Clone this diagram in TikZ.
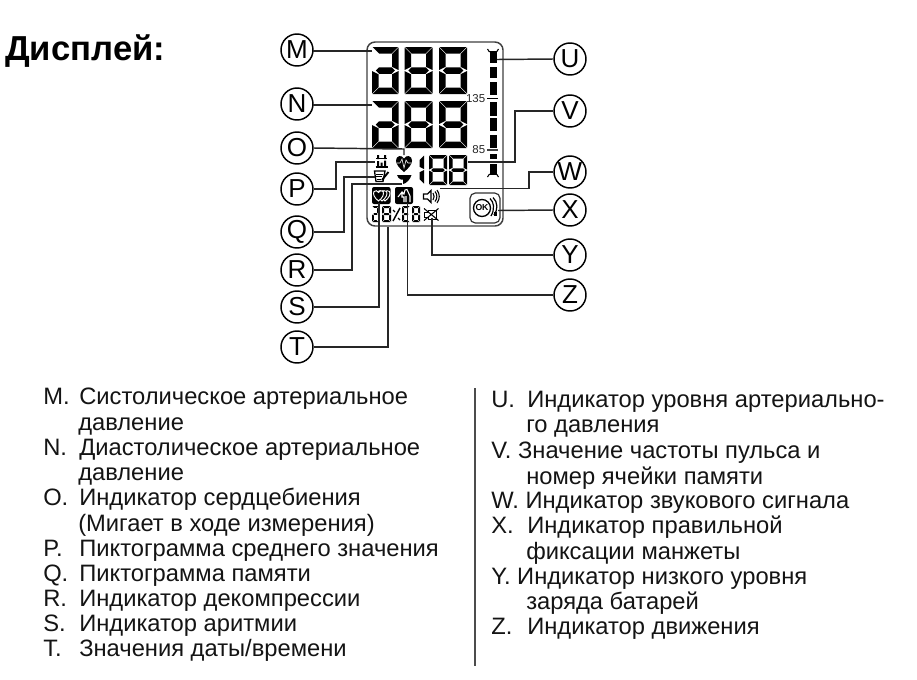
\documentclass[tikz,border=0pt]{standalone}
\usepackage{fontspec}
\setmainfont{Liberation Sans}
\newcommand\SegA{\fill (\g,0) -- ({\w-\g},0) -- ({\w-\t-\g},\t) -- ({\t+\g},\t) -- cycle;}
\newcommand\SegD{\fill (\g,\h) -- ({\w-\g},\h) -- ({\w-\t-\g},{\h-\t}) -- ({\t+\g},{\h-\t}) -- cycle;}
\newcommand\SegF{\fill (0,\g) -- (\t,{\t+\g}) -- (\t,{\h/2-\t/2-\g}) -- (0,{\h/2-\g}) -- cycle;}
\newcommand\SegB{\fill (\w,\g) -- ({\w-\t},{\t+\g}) -- ({\w-\t},{\h/2-\t/2-\g}) -- (\w,{\h/2-\g}) -- cycle;}
\newcommand\SegE{\fill (0,{\h/2+\g}) -- (\t,{\h/2+\t/2+\g}) -- (\t,{\h-\t-\g}) -- (0,{\h-\g}) -- cycle;}
\newcommand\SegC{\fill (\w,{\h/2+\g}) -- ({\w-\t},{\h/2+\t/2+\g}) -- ({\w-\t},{\h-\t-\g}) -- (\w,{\h-\g}) -- cycle;}
\newcommand\SegG{\fill ({\g+\t/2},\h/2) -- ({\t+\g},{\h/2-\t/2}) -- ({\w-\t-\g},{\h/2-\t/2}) -- ({\w-\g-\t/2},\h/2) -- ({\w-\t-\g},{\h/2+\t/2}) -- ({\t+\g},{\h/2+\t/2}) -- cycle;}
\newcommand\DigitAt[6]{\begin{scope}[shift={(#1,#2)}]\def\w{#3}\def\h{#4}\def\t{#5}\def\g{0.5}#6\end{scope}}
\newcommand\AllSegs{\SegA\SegB\SegC\SegD\SegE\SegF\SegG}
\newcommand\DSegs{\SegA\SegB\SegC\SegD\SegE\SegG}
\newcommand\HeartAt[1]{\filldraw[fill=black,draw=white,line width=0.7pt] (#1,201) .. controls (#1-4,198) and (#1-6,194) .. (#1-4.5,191.5) .. controls (#1-3,190) and (#1-1,190.5) .. (#1,192.5) .. controls (#1+1,190.5) and (#1+3,190) .. (#1+4.5,191.5) .. controls (#1+6,194) and (#1+4,198) .. (#1,201) -- cycle;}
\tikzset{
  lbl/.style={circle,draw=black,fill=white,line width=1.1pt,minimum size=24pt,inner sep=0pt,font=\fontsize{19.5}{19.5}\selectfont},
  lead/.style={draw=black!85,line width=1.1pt},
  item/.style={anchor=base west,inner sep=0pt,font=\fontsize{17.8}{17.8}\selectfont,text=black!92},
  scale label/.style={inner sep=0pt,font=\fontsize{8.6}{8.6}\selectfont,text=black!85},
}
\begin{document}
\begin{tikzpicture}[x=0.75pt,y=-0.75pt]
\useasboundingbox (0,0) rectangle (917,679);
\fill[white] (0,0) rectangle (917,679);
\node[anchor=base west,inner sep=0pt,font=\bfseries\fontsize{26}{26}\selectfont] (title) at (5,60) {Дисплей:};

% LCD bezel
\draw[black!75,line width=1.1pt,rounded corners=6pt] (367,42) rectangle (503,226);

% Big digits
\DigitAt{372}{47}{26.5}{47}{6.5}{\DSegs}
\DigitAt{404.5}{47}{28}{47}{6.5}{\AllSegs}
\DigitAt{439}{47}{28}{47}{6.5}{\AllSegs}
\DigitAt{372}{101}{26.5}{47}{6.5}{\DSegs}
\DigitAt{404.5}{101}{28}{47}{6.5}{\AllSegs}
\DigitAt{439}{101}{28}{47}{6.5}{\AllSegs}
% Pulse digits
\DigitAt{418}{155}{6}{29}{4.5}{\SegB\SegC}
\DigitAt{429}{155}{18}{30}{3.5}{\AllSegs}
\DigitAt{449}{155}{18}{30}{3.5}{\AllSegs}
% Date digits
\DigitAt{372}{206}{7}{16}{1.8}{\SegA\SegB\SegD\SegE\SegG}
\DigitAt{382}{206}{9}{16}{2}{\AllSegs}
\draw[black,line width=1.1pt] (393,221) -- (400,208);
\draw[black,line width=0.9pt] (393,210) -- (395,212) (398,218) -- (400,220);
\DigitAt{402}{206}{8}{16}{2}{\SegA\SegD\SegE\SegF\SegG}
\DigitAt{412}{206}{8}{16}{2}{\AllSegs}

% Level bar
\foreach \a/\b in {51/63,67/78,82/95,102/116,118/131,135/148,154/159,164/175}
  \fill[black] (489.5,\a) rectangle (496.5,\b);
\draw[black,line width=0.8pt] (487.5,49) arc[start angle=180,end angle=0,x radius=5.5,y radius=3.5];
\draw[black,line width=0.8pt] (487.5,177) arc[start angle=180,end angle=360,x radius=5.5,y radius=3.5];
\draw[black,line width=1.1pt] (487,98.5) -- (498,98.5);
\draw[black!75,line width=0.8pt] (487,150) -- (498,150);
\node[scale label,anchor=east] (s135) at (485.5,98.5) {135};
\node[scale label,anchor=east] (s85) at (485.5,150) {85};

% Heart
\fill[black] (404,172) .. controls (399,168) and (396,164) .. (396,160.5) .. controls (396,155.5) and (402,154.5) .. (404,158.5) .. controls (406,154.5) and (412,155.5) .. (412,160.5) .. controls (412,164) and (409,168) .. (404,172) -- cycle;
\draw[white,line width=0.45pt] (397,163) -- (400,163) -- (402,159) -- (404,168) -- (406,160) -- (408,163) -- (411,163);
% Average icon
\draw[black,line width=1pt] (375.5,167) -- (387.5,167);
\draw[black,line width=0.9pt] (376,158.5) -- (387,158.5);
\fill[black] (377,161) rectangle (379,166) (380.5,162.5) rectangle (382.5,166) (384,160.5) rectangle (386,166);
\fill[black] (377,155) rectangle (379,159) (384,155) rectangle (386,159);
% Memory icon
\draw[black,line width=1pt] (374.5,171) -- (385,171) -- (383,181.5) -- (376,181.5) -- cycle;
\draw[black,line width=0.7pt] (376,174) -- (383,174) (376,176.5) -- (382,176.5) (376.5,179) -- (381,179);
\draw[black,line width=1.4pt] (382,180) -- (388.5,172);
% Deflation icon
\fill[black] (397,175) -- (411.5,175) .. controls (410,180) and (406,183.5) .. (403,184) -- (403,179.5) -- (401,179.5) .. controls (399,179.5) and (398,177) .. (397,175) -- cycle;
% Arrhythmia icon
\fill[black,rounded corners=1.5pt] (372,187) rectangle (390.5,204);
\HeartAt{385}\HeartAt{382}\HeartAt{378.5}
% Motion icon
\fill[black,rounded corners=1.5pt] (395,187) rectangle (413,204);
\draw[white,line width=0.8pt] (398,197) -- (402,192) -- (404,194) -- (405,190) -- (407,189.5) -- (410,196) -- (410,202) (402,192) -- (402,197) -- (404,197) -- (404,202) (406,196) -- (406,202);
% Speaker icon
\draw[black,line width=0.9pt] (423.5,194) -- (427.5,194) -- (431,190.5) -- (431,202.5) -- (427.5,199) -- (423.5,199) -- cycle;
\draw[black,line width=0.8pt] (433,193) .. controls (434.5,195) and (434.5,198) .. (433,200);
\draw[black,line width=0.8pt] (435,191.5) .. controls (437.5,194.5) and (437.5,198.5) .. (435,201.5);
\draw[black,line width=0.8pt] (437,190) .. controls (440,194) and (440,199) .. (437,203);
% Low battery icon
\draw[black,line width=0.6pt] (424,212) -- (428,212) -- (428,210) -- (436,210) -- (436,219) -- (428,219) -- (428,217) -- (424,217) -- cycle;
\draw[black,line width=0.8pt] (424,208.5) -- (438.5,220.5) (424,220.5) -- (438.5,208.5);
% OK icon
\draw[black!80,line width=0.9pt,rounded corners=4pt] (470,193) rectangle (500,223);
\draw[black,line width=1pt] (482,208) circle[radius=8.5];
\node[inner sep=0pt,font=\bfseries\fontsize{6.5}{6.5}\selectfont] (ok) at (482,208) {OK};
\draw[black,line width=0.9pt] (490,198.5) .. controls (494,202) and (495,209) .. (491,216);
\draw[black,line width=0.9pt] (493,197.5) .. controls (498,202) and (498,210) .. (494,215);
\fill[black] (494,212) rectangle (497,216);

% Callouts
\node[lbl] (M) at (297,50) {M};
\node[lbl] (N) at (297,104) {N};
\node[lbl] (O) at (297,148) {O};
\node[lbl] (P) at (297,189) {P};
\node[lbl] (Q) at (297,232) {Q};
\node[lbl] (R) at (297,270) {R};
\node[lbl] (S) at (297,307) {S};
\node[lbl] (T) at (297,347) {T};
\node[lbl] (U) at (570,59) {U};
\node[lbl] (V) at (570,111) {V};
\node[lbl] (W) at (570,172) {W};
\node[lbl] (X) at (570,210) {X};
\node[lbl] (Y) at (570,255) {Y};
\node[lbl] (Z) at (570,295) {Z};

\coordinate (eM) at (372,51);
\coordinate (eN) at (372,105);
\coordinate (eO) at (404,155);
\coordinate (eP) at (375,162);
\coordinate (eQ) at (375,177);
\coordinate (eR) at (402,184);
\coordinate (eS) at (379,203);
\coordinate (eT) at (388,227);
\coordinate (eU) at (497,59.5);
\coordinate (eV) at (468,162);
\coordinate (eW) at (440,188.5);
\coordinate (eX) at (498,210.5);
\coordinate (eY) at (432,218);
\coordinate (eZ) at (407.5,203);

\draw[lead] (M.east) -- (M.east |- eM) -- (eM);
\draw[lead] (N.east) -- (N.east |- eN) -- (eN);
\draw[lead] (O.east) -- (404,149) -- (eO);
\draw[lead] (P.east) -- (336,189) -- (336,162) -- (eP);
\draw[lead] (Q.east) -- (344,232) -- (344,177) -- (eQ);
\draw[lead] (R.east) -- (352,270) -- (352,184) -- (eR);
\draw[lead] (S.east) -- (379,307) -- (eS);
\draw[lead] (T.east) -- (388,347) -- (eT);
\draw[lead] (U.west) -- (eU);
\draw[lead] (V.west) -- (515,111) -- (515,162) -- (eV);
\draw[lead] (W.west) -- (529,172) -- (529,188.5) -- (eW);
\draw[lead] (X.west) -- (eX);
\draw[lead] (Y.west) -- (432,255) -- (eY);
\draw[lead] (Z.west) -- (407.5,295) -- (eZ);

% Left list
\node[item] (tm1) at (43,404.5) {M.};
\node[item] (tm2) at (79,404.5) {Систолическое артериальное};
\node[item] (tm3) at (78,430) {давление};
\node[item] (tn1) at (43,455) {N.};
\node[item] (tn2) at (79,455) {Диастолическое артериальное};
\node[item] (tn3) at (78,480.5) {давление};
\node[item] (to1) at (43,505.5) {O.};
\node[item] (to2) at (79,505.5) {Индикатор сердцебиения};
\node[item] (to3) at (78,531) {(Мигает в ходе измерения)};
\node[item] (tp1) at (43,556) {P.};
\node[item] (tp2) at (79,556) {Пиктограмма среднего значения};
\node[item] (tq1) at (43,581.5) {Q.};
\node[item] (tq2) at (79,581.5) {Пиктограмма памяти};
\node[item] (tr1) at (43,606.5) {R.};
\node[item] (tr2) at (79,606.5) {Индикатор декомпрессии};
\node[item] (ts1) at (43,631.5) {S.};
\node[item] (ts2) at (79,631.5) {Индикатор аритмии};
\node[item] (tt1) at (43,656.5) {T.};
\node[item] (tt2) at (79,656.5) {Значения даты/времени};

% Divider
\draw[black!70,line width=0.9pt] (475,388) -- (475,666);

% Right list
\node[item] (tu1) at (491,407) {U.};
\node[item] (tu2) at (527,407) {Индикатор уровня артериально-};
\node[item] (tu3) at (526,432.5) {го давления};
\node[item] (tv1) at (491,458) {V. Значение частоты пульса и};
\node[item] (tv2) at (526,484) {номер ячейки памяти};
\node[item] (tw1) at (491,508.5) {W. Индикатор звукового сигнала};
\node[item] (tx1) at (491,533.5) {X.};
\node[item] (tx2) at (527,533.5) {Индикатор правильной};
\node[item] (tx3) at (526,559) {фиксации манжеты};
\node[item] (ty1) at (491,584.5) {Y. Индикатор низкого уровня};
\node[item] (ty2) at (526,609.5) {заряда батарей};
\node[item] (tz1) at (491,634.5) {Z.};
\node[item] (tz2) at (527,634.5) {Индикатор движения};
\end{tikzpicture}
\end{document}
